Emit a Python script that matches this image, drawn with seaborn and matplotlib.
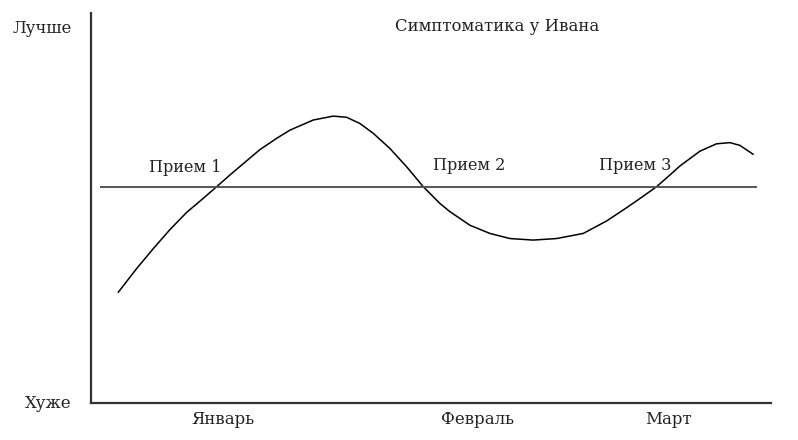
import numpy as np
import pandas as pd
import matplotlib
matplotlib.use("Agg")
import matplotlib.pyplot as plt
import seaborn as sns

# Curve (x: arbitrary time units 0-100, y: 0 = worse, 10 = better)
curve_x = [4.01, 6.72, 9.16, 11.62, 14.07, 16.51, 18.49, 20.44, 22.40, 24.85,
           27.31, 29.26, 32.69, 35.63, 37.60, 39.56, 41.51, 43.97, 46.43,
           48.87, 51.32, 52.79, 55.74, 58.68, 61.62, 65.04, 68.49, 72.40, 75.84,
           78.78, 81.18, 83.19, 85.15, 86.62, 89.56, 92.01, 93.97, 95.44, 97.40]
curve_y = [2.84, 3.45, 3.96, 4.45, 4.89, 5.25, 5.55, 5.85, 6.14, 6.50,
           6.79, 7.00, 7.26, 7.36, 7.33, 7.17, 6.92, 6.53, 6.06,
           5.55, 5.12, 4.91, 4.56, 4.35, 4.22, 4.18, 4.22, 4.35, 4.67,
           5.01, 5.30, 5.55, 5.85, 6.08, 6.46, 6.65, 6.68, 6.61, 6.38]

# Reference level
level_y = 5.54
level_x = [1.3, 97.9]

# Visit labels
visit_labels = ["Прием 1", "Прием 2", "Прием 3"]
visit_x = [13.8, 55.7, 80.1]
visit_y = [6.05, 6.1, 6.1]

month_labels = ["Январь", "Февраль", "Март"]
month_x = [19.4, 56.8, 84.9]
y_labels = ["Хуже", "Лучше"]
y_ticks = [0.05, 9.65]

title = "Симптоматика у Ивана"

sns.set_style("ticks")
plt.rcParams['font.family'] = ['DejaVu Serif']

fig = plt.figure(figsize=(7.98, 4.40), dpi=100)
ax = fig.add_axes([0.114, 0.084, 0.852, 0.886])

df = pd.DataFrame({"x": curve_x, "y": curve_y})
sns.lineplot(data=df, x="x", y="y", ax=ax, color="black", linewidth=1.1, sort=False)
ax.hlines(level_y, level_x[0], level_x[1], color="#555555", linewidth=1.4)

for lbl, x, y in zip(visit_labels, visit_x, visit_y):
    ax.text(x, y, lbl, ha="center", va="center", fontsize=11.6, color="#222222")

ax.text(59.7, 9.65, title, ha="center", va="center", fontsize=11.9, color="#222222")

ax.set_xlim(0, 100)
ax.set_ylim(0, 10)
ax.set_xticks(month_x)
ax.set_xticklabels(month_labels)
ax.set_yticks(y_ticks)
ax.set_yticklabels(y_labels)
ax.tick_params(axis="both", length=0, labelsize=11.9, colors="#222222")
ax.tick_params(axis="y", pad=14)
ax.tick_params(axis="x", pad=6)
ax.set_xlabel("")
ax.set_ylabel("")
sns.despine(ax=ax)
for side in ["left", "bottom"]:
    ax.spines[side].set_linewidth(1.6)
    ax.spines[side].set_color("#333333")

fig.savefig("out.png", dpi=100)
